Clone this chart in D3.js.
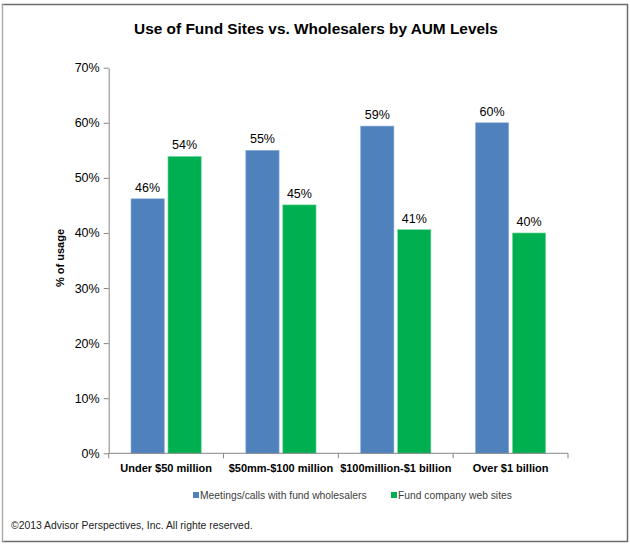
<!DOCTYPE html>
<html>
<head>
<meta charset="utf-8">
<script src="https://cdn.jsdelivr.net/npm/d3@7"></script>
<style>
  body { margin: 0; background: #fff; }
  text { font-family: Arial, "Liberation Sans", sans-serif; }
</style>
</head>
<body>
<div id="chart"></div>
<script>
var width = 630;
var height = 551;

// data
var categories = ["Under $50 million", "$50mm-$100 million", "$100million-$1 billion", "Over $1 billion"];
var seriesNames = ["Meetings/calls with fund wholesalers", "Fund company web sites"];
var wholesalers = [0.462, 0.550, 0.594, 0.600];
var websites = [0.539, 0.451, 0.406, 0.400];
var yTicks = [0, 0.1, 0.2, 0.3, 0.4, 0.5, 0.6, 0.7];
var colors = ["#4f81bd", "#00b050"];

var svg = d3.select("#chart")
  .append("svg")
  .attr("width", width)
  .attr("height", height)

// frame around the chart
svg.append("rect")
  .attr("x", 2.5).attr("y", 4.5)
  .attr("width", 625).attr("height", 537)
  .attr("fill", "none")
  .attr("stroke", "#6b6b6b")
  .attr("stroke-width", 1.5)
svg.append("line")
  .attr("x1", 2.5).attr("x2", 2.5)
  .attr("y1", 4.5).attr("y2", 541.5)
  .attr("stroke", "#fff").attr("stroke-width", 2)
svg.append("line")
  .attr("x1", 2.5).attr("x2", 2.5)
  .attr("y1", 4.5).attr("y2", 541.5)
  .attr("stroke", "#555").attr("stroke-width", 1)
  .attr("stroke-dasharray", "1,1")

// title
svg.append("text")
  .attr("x", 316).attr("y", 34)
  .attr("text-anchor", "middle")
  .style("font-size", "15.4px")
  .style("font-weight", "bold")
  .style("fill", "#000")
  .text("Use of Fund Sites vs. Wholesalers by AUM Levels")

var plotLeft = 108.7, plotRight = 568, plotTop = 67.7, plotBottom = 453.3;

var y = d3.scaleLinear()
  .domain([0, 0.7])
  .range([plotBottom, plotTop])

var x0 = d3.scaleBand()
  .domain(categories)
  .range([plotLeft, plotRight])

var x1 = d3.scaleBand()
  .domain([0, 1])
  .range([22.3, x0.bandwidth() - 22.3])
  .paddingInner(0.1)

// y axis
var yAxis = svg.append("g")
  .attr("transform", "translate(" + plotLeft + ",0)")
  .call(d3.axisLeft(y).tickValues(yTicks).tickFormat(d3.format(".0%")).tickSize(5).tickSizeOuter(0).tickPadding(4))
yAxis.select(".domain").attr("stroke", "#868686")
yAxis.selectAll(".tick line").attr("stroke", "#868686")
yAxis.selectAll(".tick text")
  .style("font-size", "12.5px")
  .style("font-family", "Arial, 'Liberation Sans', sans-serif")
  .attr("fill", "#000")

svg.append("text")
  .attr("transform", "translate(64,258) rotate(-90)")
  .attr("text-anchor", "middle")
  .style("font-size", "11px")
  .style("font-weight", "bold")
  .text("% of usage")

// bars
var rows = categories.map(function(c, i) {
  return { cat: c, values: [wholesalers[i], websites[i]] };
});

var groups = svg.append("g")
  .selectAll("g")
  .data(rows)
  .join("g")
    .attr("transform", d => "translate(" + x0(d.cat) + ",0)")

groups.selectAll("rect")
  .data(d => d.values.map((v, k) => ({ k: k, v: v })))
  .join("rect")
    .attr("x", d => x1(d.k))
    .attr("y", d => y(d.v))
    .attr("width", x1.bandwidth())
    .attr("height", d => plotBottom - y(d.v))
    .attr("fill", d => colors[d.k])
    .attr("stroke", d => d.k == 0 ? "#8eaede" : "#7fd8a6")
    .attr("stroke-width", 0.6)

groups.selectAll("text")
  .data(d => d.values.map((v, k) => ({ k: k, v: v })))
  .join("text")
    .attr("x", d => x1(d.k) + x1.bandwidth() / 2)
    .attr("y", d => y(d.v) - 7)
    .attr("text-anchor", "middle")
    .style("font-size", "12.5px")
    .text(d => Math.round(d.v * 100) + "%")

// x axis with ticks between the categories
var boundaries = categories.map(c => x0(c)).concat([plotRight]);
svg.append("line")
  .attr("x1", plotLeft).attr("x2", plotRight)
  .attr("y1", plotBottom).attr("y2", plotBottom)
  .attr("stroke", "#868686")
svg.append("g")
  .selectAll("line")
  .data(boundaries)
  .join("line")
    .attr("x1", d => d).attr("x2", d => d)
    .attr("y1", plotBottom).attr("y2", plotBottom + 5)
    .attr("stroke", "#868686")

svg.append("g")
  .selectAll("text")
  .data(categories)
  .join("text")
    .attr("x", d => x0(d) + x0.bandwidth() / 2)
    .attr("y", 472)
    .attr("text-anchor", "middle")
    .style("font-size", "11px")
    .style("font-weight", "bold")
    .text(d => d)

// legend
var legendX = [193, 391];
var legend = svg.append("g")
  .selectAll("g")
  .data(seriesNames)
  .join("g")
    .attr("transform", (d, i) => "translate(" + legendX[i] + ",499)")
legend.append("rect")
  .attr("x", 0).attr("y", -7)
  .attr("width", 6).attr("height", 6)
  .attr("fill", (d, i) => colors[i])
legend.append("text")
  .attr("x", 7).attr("y", 0)
  .style("font-size", "10.3px")
  .style("fill", "#404040")
  .text(d => d)

// footer
svg.append("text")
  .attr("x", 11).attr("y", 529)
  .style("font-size", "10.4px")
  .style("fill", "#222")
  .text("©2013 Advisor Perspectives, Inc. All righte reserved.")
</script>
</body>
</html>
